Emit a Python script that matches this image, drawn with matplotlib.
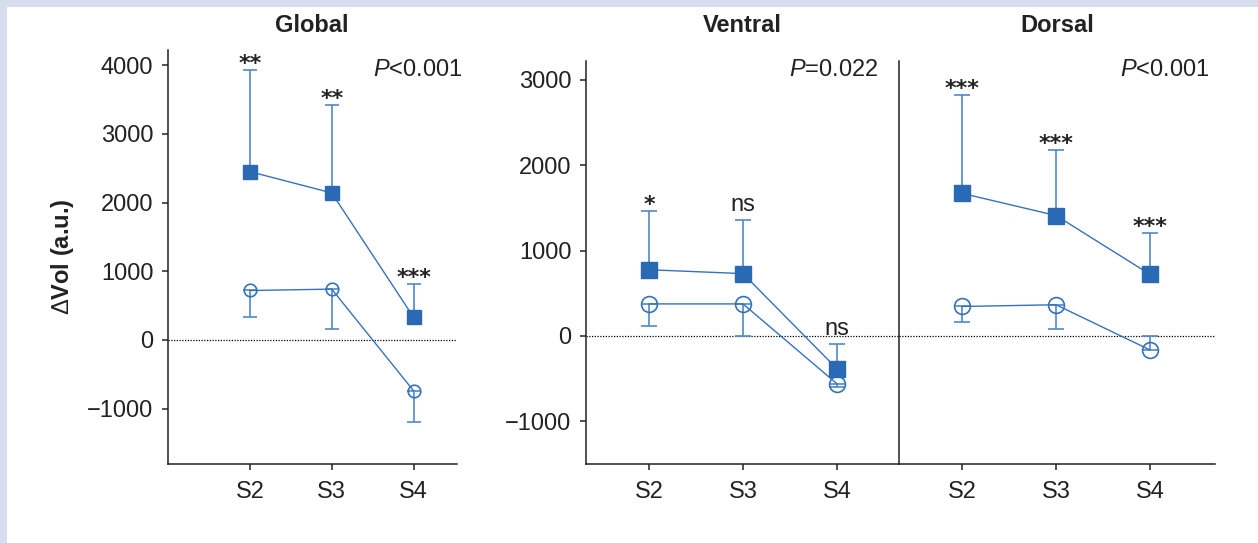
import numpy as np
import matplotlib as mpl
import matplotlib.pyplot as plt
from matplotlib.patches import Rectangle

mpl.rcParams['font.family'] = ['Liberation Sans', 'DejaVu Sans']
mpl.rcParams['mathtext.fontset'] = 'custom'
mpl.rcParams['mathtext.rm'] = 'Liberation Sans'
mpl.rcParams['mathtext.it'] = 'Liberation Sans:italic'

# Daten
stages = ['S2', 'S3', 'S4']

global_hi = [2450, 2140, 330]
global_hi_sd = [1480, 1280, 485]
global_lo = [720, 740, -740]
global_lo_sd = [380, 580, 450]
global_lo_dir = [-1, -1, -1]   # Richtung des Fehlerbalkens (offene Kreise)
global_sig = ['**', '**', '***']

ventral_hi = [775, 730, -385]
ventral_hi_sd = [685, 630, 285]
ventral_lo = [375, 375, -560]
ventral_lo_sd = [255, 370, 35]
ventral_lo_dir = [-1, -1, -1]
ventral_sig = ['*', 'ns', 'ns']

dorsal_hi = [1670, 1410, 720]
dorsal_hi_sd = [1150, 770, 485]
dorsal_lo = [345, 365, -165]
dorsal_lo_sd = [180, 280, 165]
dorsal_lo_dir = [-1, -1, 1]
dorsal_sig = ['***', '***', '***']

titles = ['Global', 'Ventral', 'Dorsal']
p_texts = ['$P$<0.001', '$P$=0.022', '$P$<0.001']

# Farben
c_fill = '#2a6ab4'
c_line = '#3572bd'
c_err = '#4f89c8'
c_txt = '#222222'
fs = 17

W, H = 1258, 543
fig = plt.figure(figsize=(W / 100, H / 100), dpi=100)
fig.patch.set_facecolor('#d6deee')
fig.patches.append(Rectangle((7 / W, 0), 1, 1 - 7 / H, transform=fig.transFigure,
                             facecolor='white', edgecolor='none', zorder=-1))


def px_axes(l, r, t, b):
    return fig.add_axes([l / W, 1 - b / H, (r - l) / W, (b - t) / H])


ax_g = px_axes(168, 457, 50, 464)
ax_v = px_axes(586, 899, 61, 464)
ax_d = px_axes(899, 1215, 61, 464)

x = np.arange(1, len(stages) + 1)


def draw_panel(ax, hi, hi_sd, lo, lo_sd, lo_dir, sig, ms, cap):
    ax.set_facecolor('none')
    ax.axhline(0, color='black', lw=0.9, ls=(0, (1, 1.2)), zorder=1)
    # offene Kreise
    lo_sd = np.array(lo_sd)
    lo_dir = np.array(lo_dir)
    err_dn = np.where(lo_dir < 0, lo_sd, 0)
    err_up = np.where(lo_dir > 0, lo_sd, 0)
    ax.errorbar(x, lo, yerr=[err_dn, err_up], fmt='none', ecolor=c_err,
                elinewidth=1.2, capsize=cap, capthick=1.2, zorder=2)
    ax.plot(x, lo, color=c_line, lw=1.0, marker='o', ms=ms * 0.95,
            mfc='none', mec=c_line, mew=1.2, zorder=3)
    # gefuellte Quadrate, Fehler nach oben
    ax.errorbar(x, hi, yerr=[np.zeros(len(hi)), hi_sd], fmt='none', ecolor=c_err,
                elinewidth=1.2, capsize=cap, capthick=1.2, zorder=2)
    ax.plot(x, hi, color=c_line, lw=1.0, zorder=3)
    ax.plot(x, hi, ls='none', marker='s', ms=ms, mfc=c_fill, mec=c_fill, zorder=4)
    for xi, yi, sd, s in zip(x, hi, hi_sd, sig):
        if s == 'ns':
            ax.annotate(s, (xi, yi + sd), xytext=(0, 6.5), textcoords='offset points',
                        ha='center', va='baseline', fontsize=fs, color=c_txt)
        else:
            ax.annotate(s, (xi, yi + sd), xytext=(0, 0), textcoords='offset points',
                        ha='center', va='baseline', fontsize=16, color=c_txt,
                        family='DejaVu Sans', fontweight='bold')
    ax.set_xticks(x)
    ax.set_xticklabels(stages)
    for sp in ['top', 'right']:
        ax.spines[sp].set_visible(False)
    for sp in ['left', 'bottom']:
        ax.spines[sp].set_linewidth(1.1)
        ax.spines[sp].set_color(c_txt)
    ax.tick_params(axis='both', direction='out', length=4.5, width=1.1, colors=c_txt,
                   labelsize=fs, labelcolor=c_txt)
    ax.tick_params(axis='x', pad=8)
    ax.tick_params(axis='y', pad=6)


draw_panel(ax_g, global_hi, global_hi_sd, global_lo, global_lo_sd, global_lo_dir,
           global_sig, 9.5, 4.8)
draw_panel(ax_v, ventral_hi, ventral_hi_sd, ventral_lo, ventral_lo_sd, ventral_lo_dir,
           ventral_sig, 12, 5.8)
draw_panel(ax_d, dorsal_hi, dorsal_hi_sd, dorsal_lo, dorsal_lo_sd, dorsal_lo_dir,
           dorsal_sig, 12, 6)

ax_g.set_xlim(0, 3.53)
ax_g.set_ylim(-1805, 4220)
ax_g.set_yticks([-1000, 0, 1000, 2000, 3000, 4000])

ax_v.set_xlim(0.33, 3.66)
ax_v.set_ylim(-1500, 3220)
ax_v.set_yticks([-1000, 0, 1000, 2000, 3000])

ax_d.set_xlim(0.33, 3.69)
ax_d.set_ylim(-1500, 3220)
ax_d.set_yticks([])

# Titel, P-Werte, y-Label
title_x = [312, 742, 1057]
p_x = [463, 878, 1210]
for t, tx, p, px in zip(titles, title_x, p_texts, p_x):
    fig.text(tx / W, 1 - 26 / H, t, ha='center', va='center', fontsize=fs,
             fontweight='bold', color=c_txt)
    fig.text(px / W, 1 - 70 / H, p, ha='right', va='center', fontsize=fs, color=c_txt)

fig.text(63 / W, 1 - 257 / H, '$\\Delta$Vol (a.u.)', rotation=90, ha='center', va='center',
         fontsize=fs, fontweight='bold', color=c_txt)

fig.savefig('out.png', dpi=100, facecolor=fig.get_facecolor())
